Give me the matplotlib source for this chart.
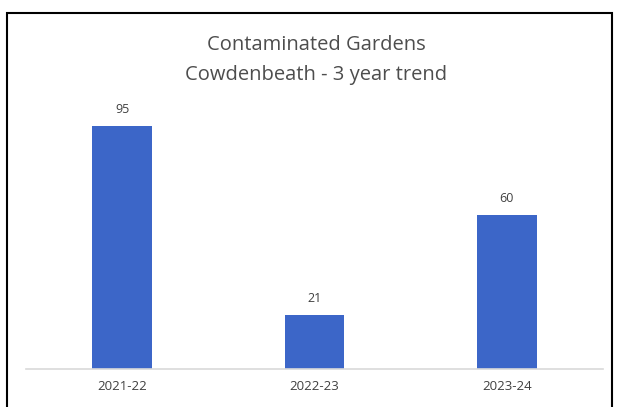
import matplotlib.pyplot as plt
from matplotlib.patches import Rectangle

# chart data
years = ["2021-22", "2022-23", "2023-24"]
gardens = [95, 21, 60]

plt.rcParams["font.family"] = ["Open Sans", "DejaVu Sans"]

fig = plt.figure(figsize=(6.17, 4.07), dpi=100)
W, H = 617, 407

# axes placed in pixel terms: left 26, right 603, baseline at y=369
left, right, bottom_px, top_px = 26, 603, 369, 113
ax = fig.add_axes([left / W, (H - bottom_px) / H, (right - left) / W, (bottom_px - top_px) / H])

x = list(range(len(years)))
bars = ax.bar(x, gardens, width=0.31, color="#3C66C8", zorder=2)
ax.set_xlim(-0.5, len(years) - 0.5)
ax.set_ylim(0, 100)

for bar, v in zip(bars, gardens):
    ax.text(bar.get_x() + bar.get_width() / 2, v + 4, str(v),
            ha="center", va="bottom", fontsize=9, color="#404040")

ax.set_xticks(x)
ax.set_xticklabels(years, fontsize=9.5, color="#404040")
ax.tick_params(axis="x", length=0, pad=8)
ax.set_yticks([])
for side in ["left", "right", "top"]:
    ax.spines[side].set_visible(False)
ax.spines["bottom"].set_color("#d9d9d9")
ax.spines["bottom"].set_linewidth(1.2)

fig.text(316 / W, 1 - 45 / H, "Contaminated Gardens", ha="center", va="center",
         fontsize=14.5, color="#4d4d4d")
fig.text(316 / W, 1 - 75 / H, "Cowdenbeath - 3 year trend", ha="center", va="center",
         fontsize=14.5, color="#4d4d4d")

# outer frame, open at the bottom edge
fig.patches.append(Rectangle((7 / W, -0.05), (612 - 7) / W, (H - 13) / H + 0.05,
                             transform=fig.transFigure, fill=False,
                             edgecolor="black", linewidth=1.5))

fig.savefig("out.png", dpi=100)
